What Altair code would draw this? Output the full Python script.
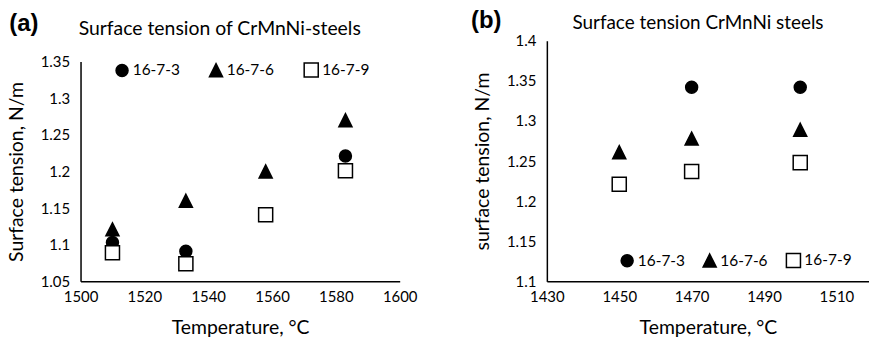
import altair as alt
import pandas as pd

# ---------------- data ----------------
series = ["16-7-3", "16-7-6", "16-7-9"]
shapes = ["circle", "M0,-1L1,1L-1,1Z", "square"]
fills = ["#000000", "#000000", "#ffffff"]
strokes = ["#000000", "#000000", "#000000"]
sizes = [145, 200, 165]

temps_a = [1510, 1533, 1558, 1583]
a_16_7_3 = [1.103, 1.091, None, 1.221]
a_16_7_6 = [1.121, 1.160, 1.200, 1.270]
a_16_7_9 = [1.089, 1.074, 1.141, 1.201]

temps_b = [1450, 1470, 1500]
b_16_7_3 = [None, 1.342, 1.342]
b_16_7_6 = [1.261, 1.278, 1.289]
b_16_7_9 = [1.221, 1.237, 1.248]

x_ticks_a = [1500, 1520, 1540, 1560, 1580, 1600]
y_ticks_a = [1.05, 1.1, 1.15, 1.2, 1.25, 1.3, 1.35]
x_ticks_b = [1430, 1450, 1470, 1490, 1510]
y_ticks_b = [1.1, 1.15, 1.2, 1.25, 1.3, 1.35, 1.4]

title_a = "Surface tension of CrMnNi-steels"
title_b = "Surface tension CrMnNi steels"
ytitle_a = "Surface tension, N/m"
ytitle_b = "surface tension, N/m"
xtitle = "Temperature, °C"
letter_a = "(a)"
letter_b = "(b)"

FONT = "Lato"
H = 242  # common group height (panel b plot height)


def long_table(temps, cols):
    rows = []
    for s, vals in zip(series, cols):
        for t, v in zip(temps, vals):
            if v is not None:
                rows.append({"series": s, "temp": t, "st": v})
    return pd.DataFrame(rows)


def panel(df, xdom, xticks, ydom, yticks, yrange, ytitle, title, title_size, letter, w,
          title_x, title_y, letter_x, letter_y, legend_x, legend_y, col_pad):
    leg = alt.Legend(
        title=None, orient="none", direction="horizontal",
        legendX=legend_x, legendY=legend_y, padding=0,
        labelFont=FONT, labelFontSize=15.5, labelColor="black",
        labelOffset=3, columnPadding=col_pad,
        symbolStrokeColor="black", symbolStrokeWidth=1.5,
        symbolOpacity=1,
    )
    pts = alt.Chart(df).mark_point(
        filled=True, strokeWidth=1.5, opacity=1
    ).encode(
        x=alt.X("temp:Q", scale=alt.Scale(domain=xdom, nice=False, zero=False),
                axis=alt.Axis(values=xticks, format="d", title=xtitle, labelFlush=False,
                              labelPadding=8, titlePadding=14)),
        y=alt.Y("st:Q", scale=alt.Scale(domain=ydom, nice=False, zero=False, range=yrange),
                axis=alt.Axis(values=yticks, format="~g", title=ytitle, labelFlush=False,
                              labelPadding=11, titlePadding=14)),
        shape=alt.Shape("series:N", scale=alt.Scale(domain=series, range=shapes), legend=leg),
        fill=alt.Fill("series:N", scale=alt.Scale(domain=series, range=fills), legend=leg),
        stroke=alt.Stroke("series:N", scale=alt.Scale(domain=series, range=strokes), legend=leg),
        size=alt.Size("series:N", scale=alt.Scale(domain=series, range=sizes), legend=leg),
    )
    ttl = alt.Chart(pd.DataFrame({"t": [title]})).mark_text(
        font=FONT, fontSize=title_size, color="black", align="center", baseline="middle"
    ).encode(text="t:N", x=alt.value(title_x), y=alt.value(title_y))
    let = alt.Chart(pd.DataFrame({"t": [letter]})).mark_text(
        font="Liberation Sans", fontSize=24, fontWeight="bold", color="black",
        align="center", baseline="middle"
    ).encode(text="t:N", x=alt.value(letter_x), y=alt.value(letter_y))
    return alt.layer(pts, ttl, let).properties(width=w, height=H)


df_a = long_table(temps_a, [a_16_7_3, a_16_7_6, a_16_7_9])
df_b = long_table(temps_b, [b_16_7_3, b_16_7_6, b_16_7_9])

# group origin for both panels sits at the top of panel (b)'s plot;
# panel (a)'s plot starts 21 px lower
pa = panel(df_a, [1500, 1600], x_ticks_a, [1.05, 1.35], y_ticks_a, [H, 21], ytitle_a,
           title_a, 19.5, letter_a, 321, 140, -12, -57, -17, 34, 21, 26.5)
pb = panel(df_b, [1430, 1519], x_ticks_b, [1.1, 1.4], y_ticks_b, [H, 0], ytitle_b,
           title_b, 19, letter_b, 324, 152, -17.5, -61, -20, 73, 212.5, 15)

chart = alt.hconcat(pa, pb, spacing=53).resolve_scale(
    shape="independent", fill="independent", stroke="independent", size="independent"
).resolve_legend(
    shape="independent", fill="independent", stroke="independent", size="independent"
).properties(
    padding={"left": 6, "top": 8, "right": 0, "bottom": 0},
    background="white",
).configure_view(stroke=None).configure_axis(
    domainColor="black", domainWidth=1.5, ticks=False, grid=False,
    labelFont=FONT, labelFontSize=15, labelColor="black",
    titleFont=FONT, titleFontSize=19.5, titleFontWeight="normal", titleColor="black",
).configure_legend(
    labelFont=FONT, labelFontSize=15.5, labelColor="black",
)

chart.save("out.html", embed_options={"renderer": "svg", "actions": False})
